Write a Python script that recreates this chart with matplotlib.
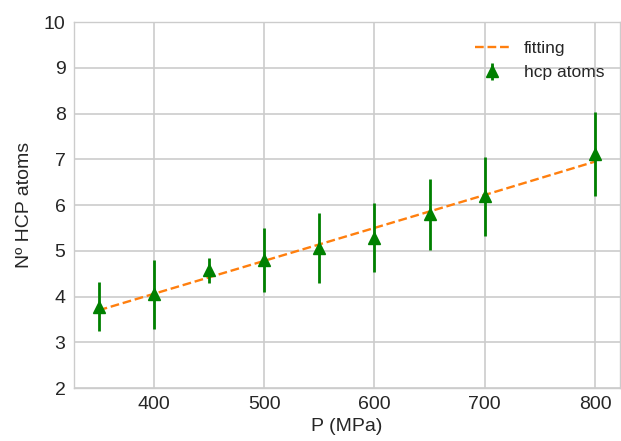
import matplotlib
matplotlib.use("Agg")
import matplotlib.pyplot as plt

# pressure (MPa) and number of hcp atoms
pressure = [350, 400, 450, 500, 550, 600, 650, 700, 800]
hcp_atoms = [3.78, 4.05, 4.57, 4.80, 5.06, 5.29, 5.80, 6.19, 7.11]
hcp_err = [0.53, 0.75, 0.28, 0.69, 0.76, 0.75, 0.78, 0.87, 0.92]

# fitted line values at the same pressures
fit_values = [3.70, 4.06, 4.42, 4.78, 5.14, 5.50, 5.86, 6.22, 6.95]

plt.style.use("seaborn-v0_8-whitegrid")
plt.rcParams["font.family"] = ["Liberation Sans", "DejaVu Sans"]

fig = plt.figure(figsize=(6.21, 4.41), dpi=100)
ax = fig.add_axes([0.119, 0.12, 0.879, 0.83])

ax.plot(pressure, fit_values, "--", color="#ff7f0e", lw=1.7, label="fitting")
ax.errorbar(pressure, hcp_atoms, yerr=hcp_err, fmt="^", color="green",
            ecolor="green", elinewidth=2, markersize=8.5, label="hcp atoms")

ax.set_ylim(2, 10)
ax.set_xticks([400, 500, 600, 700, 800])
ax.set_yticks(range(2, 11))
ax.tick_params(labelsize=14, pad=6)
ax.grid(color="#cccccc", lw=1.2)
ax.set_xlabel("P (MPa)", fontsize=14, labelpad=3)
ax.set_ylabel("Nº HCP atoms", fontsize=14, labelpad=8)

for s in ax.spines.values():
    s.set_visible(True)
    s.set_color("#cccccc")

ax.legend(loc="upper right", fontsize=12.5, frameon=False,
          bbox_to_anchor=(1.0, 0.99))

fig.savefig("out.png", dpi=100)
